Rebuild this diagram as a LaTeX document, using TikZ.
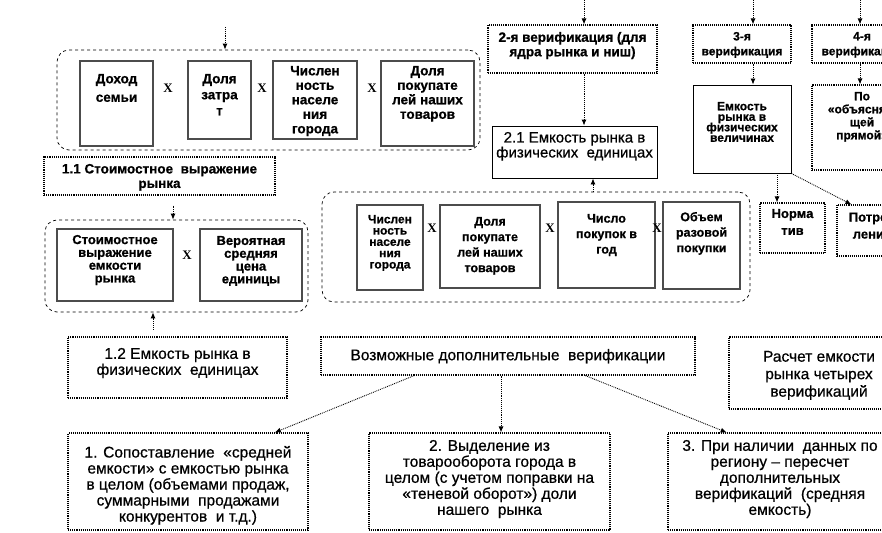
\documentclass[tikz,border=0pt]{standalone}
\usepackage{fontspec}
\setmainfont{Liberation Sans}
\newfontfamily\xfont{Liberation Serif}
\newfontfamily\rfont{Liberation Sans}[FakeBold=0.6]
\newfontfamily\bfont{Liberation Sans Bold}[FakeBold=0.8]
\usetikzlibrary{arrows.meta,calc}
\newcommand\fb{\fontsize{13.5}{14.5}\selectfont\bfont}
\newcommand\fe{\fontsize{13}{12.8}\selectfont\bfont}
\newcommand\fH{\fontsize{12}{11.3}\selectfont\bfont}
\newcommand\fm{\fontsize{12.5}{15.5}\selectfont\bfont}
\newcommand\fsm{\fontsize{12}{15}\selectfont\bfont}
\newcommand\fsq{\fontsize{12}{10.5}\selectfont\bfont}
\newcommand\fpo{\fontsize{12}{13}\selectfont\bfont}
\newcommand\fn{\fontsize{13}{17}\selectfont\bfont}
\newcommand\fr{\fontsize{15.5}{16}\selectfont\rfont}
\newcommand\frr{\fontsize{15}{15}\selectfont\rfont}
\newcommand\mkbox[8]{%
  \node[#1] (#2) at ({(#3+#5)/2},{(#4+#6)/2})
  {\parbox[c][\dimexpr #6pt-#4pt\relax][t]{\dimexpr #5pt-#3pt-4pt\relax}%
   {\lineskiplimit=-100pt\centering\vspace*{#7pt}#8\par}};}
\newcommand\mkgrp[5]{%
  \node[grp, minimum width={#4-#2}, minimum height={#5-#3}] (#1)
  at ({(#2+#4)/2},{(#3+#5)/2}) {};}
\tikzset{
  base/.style={inner xsep=2pt, inner ysep=0pt},
  inbox/.style={base, draw=black!70, line width=1.1pt},
  dotbox/.style={base, draw, densely dotted, line width=1.1pt},
  solbox/.style={base, draw, line width=0.9pt},
  grp/.style={draw, dashed, rounded corners=12pt, line width=0.7pt, inner sep=0pt},
  arr/.style={densely dotted, line width=0.9pt, -{Latex[length=6pt,width=5pt]}},
  xmark/.style={font=\xfont\bfseries\fontsize{13}{13}\selectfont, inner sep=0pt},
}
\begin{document}
\begin{tikzpicture}[x=1pt,y=-1pt]
\useasboundingbox (0,0) rectangle (882,532);
\clip (0,0) rectangle (882,532);

% ---- top-left group
\mkgrp{g1}{57}{50}{480}{150}
\mkbox{inbox,font=\fb}{a1}{80}{61}{153}{146}{13}{Доход\\[4pt]семьи}
\mkbox{inbox,font=\fb}{a2}{188}{61}{251}{139}{13}{Доля\\[1.5pt]затра\\[1.5pt]т}
\mkbox{inbox,font=\fb}{a3}{273}{61}{357}{139}{5}{Числен\\ность\\населе\\ния\\города}
\mkbox{inbox,font=\fb}{a4}{381}{61}{474}{146}{5}{Доля\\покупате\\лей наших\\товаров}
\node[xmark] (x1) at (168,88) {X};
\node[xmark] (x2) at (262,88) {X};
\node[xmark] (x3) at (372,88) {X};

\mkbox{dotbox,font=\fb}{b11}{44}{157}{275}{195}{7}{1.1 Стоимостное~ выражение\\рынка}

% ---- second left group
\mkgrp{g2}{45}{220}{308}{312}
\mkbox{inbox,font=\fe}{e1}{57}{229}{173}{301}{6}{Стоимостное\\выражение\\емкости\\рынка}
\mkbox{inbox,font=\fe}{e2}{200}{229}{302}{301}{7}{Вероятная\\средняя\\цена\\единицы}
\node[xmark] (x4) at (187,255) {X};

\mkbox{dotbox,font=\fr}{b12}{68}{337}{287}{398}{11}{1.2 Емкость рынка в\\физических~ единицах}
\mkbox{dotbox,font=\fr}{vz}{321}{337}{695}{375}{12}{Возможные дополнительные~ верификации}
\mkbox{dotbox,font=\fr}{rs}{729}{337}{909}{409}{14}{Расчет емкости\\[1.5pt]рынка четырех\\[1.5pt]верификаций}

% ---- bottom row
\mkbox{dotbox,font=\fr}{bb1}{68}{433}{308}{530}{13}{1. Сопоставление~ «средней\\емкости» с емкостью рынка\\в целом (объемами продаж,\\суммарными~ продажами\\конкурентов~ и т.д.)}
\mkbox{dotbox,font=\fr}{bb2}{369}{433}{610}{530}{7}{2. Выделение из\\товарооборота города в\\целом (с учетом поправки на\\«теневой оборот») доли\\нашего~ рынка}
\mkbox{dotbox,font=\fr}{bb3}{668}{433}{892}{530}{7}{3. При наличии~ данных по\\региону – пересчет\\дополнительных\\верификаций~ (средняя\\емкость)}

% ---- middle
\mkbox{dotbox,font=\fb}{v2}{488}{25}{657}{73}{7}{2-я верификация (для\\ядра рынка и ниш)}
\mkbox{solbox,font=\frr}{s21}{492}{126}{657}{178}{6}{2.1 Емкость рынка в\\физических~ единицах}
\mkgrp{g3}{322}{192}{750}{302}
\mkbox{inbox,font=\fH}{m1}{357}{205}{423}{290}{10}{Числен\\ность\\населе\\ния\\города}
\mkbox{inbox,font=\fm}{m2}{440}{205}{540}{288}{12}{Доля\\покупате\\лей наших\\товаров}
\mkbox{inbox,font=\fm}{m3}{558}{202}{655}{288}{12}{Число\\покупок в\\год}
\mkbox{inbox,font=\fm}{m4}{663}{202}{740}{289}{10}{Объем\\разовой\\покупки}
\node[xmark] (x5) at (432,228) {X};
\node[xmark] (x6) at (550,228) {X};
\node[xmark] (x7) at (657,228) {X};

% ---- right
\mkbox{dotbox,font=\fsm}{v3}{693}{25}{791}{63}{7}{3-я\\верификация}
\mkbox{solbox,font=\fsq}{em}{693}{85}{791}{173}{17}{Емкость\\рынка в\\физических\\величинах}
\mkbox{dotbox,font=\fsm}{v4}{812}{25}{912}{63}{7}{4-я\\верификация}
\mkbox{dotbox,font=\fpo}{po}{812}{85}{912}{170}{7}{По\\«объясняю\\щей\\прямой»}
\mkbox{dotbox,font=\fn}{nor}{760}{203}{825}{253}{6}{Норма\\тив}
\mkbox{dotbox,font=\fn}{pot}{837}{205}{907}{256}{7}{Потреб\\ление}

% ---- connectors
\coordinate (t1) at (225,27);
\coordinate (t2) at (584,0);
\coordinate (t3) at (753,0);
\coordinate (t4) at (860,0);
\coordinate (c593) at (593,0);
\coordinate (c777) at (777,0);
\coordinate (c173) at (173,0);
\coordinate (c153) at (153,0);
\coordinate (c501) at (501,0);

\draw[arr] (t1) -- (t1 |- g1.north);
\draw[arr] (t2) -- (t2 |- v2.north);
\draw[arr] (t3) -- (t3 |- v3.north);
\draw[arr] (t4) -- (t4 |- v4.north);
\draw[arr] (t2 |- v2.south) -- (t2 |- s21.north);
\draw[arr] (c593 |- g3.north) -- (c593 |- s21.south);
\draw[arr] (t3 |- v3.south) -- (t3 |- em.north);
\draw[arr] (t4 |- v4.south) -- (t4 |- po.north);
\draw[arr] (c777 |- em.south) -- (c777 |- nor.north);
\draw[arr] (em.south east) -- ($(pot.north west)!0.21!(pot.north east)$);
\draw[arr, shorten <=10pt] (c173 |- b11.south) -- (c173 |- g2.north);
\draw[arr, shorten <=7pt] (c153 |- b12.north) -- (c153 |- g2.south);
\draw[arr] ($(vz.south west)!0.25!(vz.south east)$) -- ($(bb1.north west)!0.86!(bb1.north east)$);
\draw[arr] (c501 |- vz.south) -- (c501 |- bb2.north);
\draw[arr] ($(vz.south west)!0.706!(vz.south east)$) -- ($(bb3.north west)!0.263!(bb3.north east)$);
\end{tikzpicture}
\end{document}
